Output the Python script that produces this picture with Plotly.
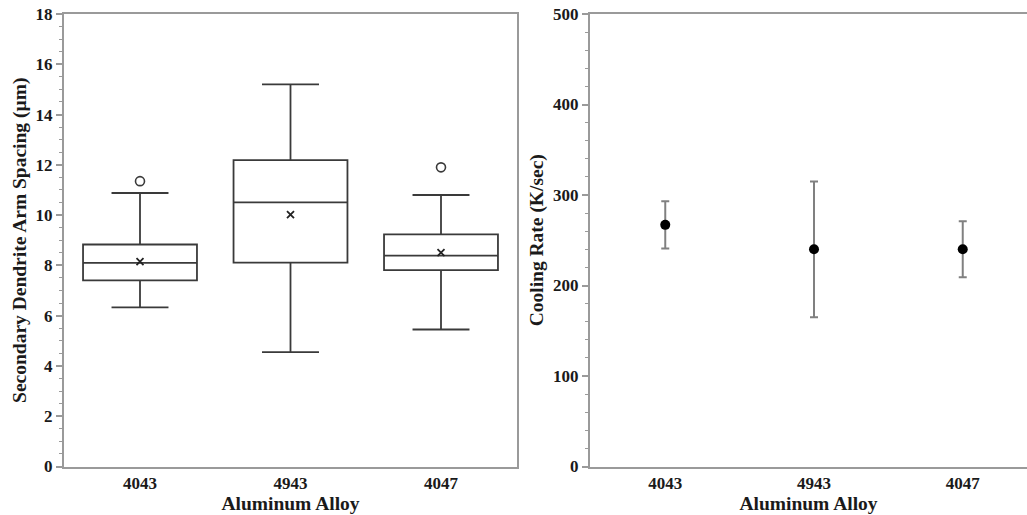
import plotly.graph_objects as go

# Alloys on the x axis of both panels
alloys = ["4043", "4943", "4047"]

# Secondary dendrite arm spacing (µm) box statistics
sdas_lower = [6.33, 4.55, 5.45]
sdas_q1 = [7.40, 8.11, 7.81]
sdas_median = [8.10, 10.51, 8.39]
sdas_q3 = [8.83, 12.19, 9.23]
sdas_upper = [10.88, 15.20, 10.80]
sdas_mean = [8.15, 10.02, 8.51]
outlier_alloys = ["4043", "4047"]
outlier_values = [11.35, 11.90]

# Cooling rate (K/sec) mean and error
cooling_rate = [267, 240, 240]
cooling_err = [26, 75, 31]

W, H = 1027, 515
FONT = "Liberation Serif, Times New Roman, serif"
AXIS_GREY = "#9a9a9a"
BOX_COL = "#3a3a3a"

fig = go.Figure()

fig.add_trace(go.Box(
    x=alloys, q1=sdas_q1, median=sdas_median, q3=sdas_q3,
    lowerfence=sdas_lower, upperfence=sdas_upper,
    boxpoints=False, width=0.757, whiskerwidth=0.5,
    fillcolor="rgba(0,0,0,0)", line=dict(color=BOX_COL, width=1.8),
    xaxis="x", yaxis="y", showlegend=False, hoverinfo="skip",
))
fig.add_trace(go.Scatter(
    x=alloys, y=sdas_mean, mode="markers",
    marker=dict(symbol="x-thin", size=7, line=dict(color="#222", width=1.8)),
    xaxis="x", yaxis="y", showlegend=False,
))
fig.add_trace(go.Scatter(
    x=outlier_alloys, y=outlier_values, mode="markers",
    marker=dict(symbol="circle-open", size=9, color=BOX_COL, line=dict(width=1.6)),
    xaxis="x", yaxis="y", showlegend=False,
))

fig.add_trace(go.Scatter(
    x=alloys, y=cooling_rate, mode="markers",
    marker=dict(symbol="circle", size=10, color="#000"),
    error_y=dict(type="data", array=cooling_err, visible=True,
                 color="#808080", thickness=2, width=4),
    xaxis="x2", yaxis="y2", showlegend=False,
))

tickfont = dict(family=FONT, size=17, color="#1a1a1a", weight="bold")
titlefont = dict(family=FONT, size=19.5, color="#1a1a1a", weight="bold")

ydom = [1 - 466.5 / H, 1 - 14 / H]

common_x = dict(
    type="category", showline=True, linecolor=AXIS_GREY, linewidth=2,
    ticks="", showgrid=False, zeroline=False, tickfont=tickfont, automargin=False,
    title=dict(text="Aluminum Alloy", font=titlefont, standoff=4),
)

fig.update_layout(
    width=W, height=H,
    margin=dict(l=0, r=0, t=0, b=0),
    paper_bgcolor="white", plot_bgcolor="white",
    xaxis=dict(domain=[64 / W, 517 / W], range=[-0.505, 2.505], mirror=True,
               anchor="y", **common_x),
    yaxis=dict(
        domain=ydom, range=[0, 18], dtick=2, anchor="x", automargin=False,
        showline=True, linecolor=AXIS_GREY, linewidth=2, mirror=True,
        ticks="outside", ticklen=6, tickwidth=1.5, tickcolor=AXIS_GREY,
        minor=dict(ticks="outside", dtick=0.5, ticklen=3, tickwidth=1, tickcolor=AXIS_GREY),
        showgrid=False, zeroline=False, tickfont=tickfont,
        title=dict(text="Secondary Dendrite Arm Spacing (µm)", font=titlefont, standoff=4),
    ),
    xaxis2=dict(domain=[590 / W, 1.0], range=[-0.506, 2.432], mirror=True,
                anchor="y2", **common_x),
    yaxis2=dict(
        domain=ydom, range=[0, 500], dtick=100, anchor="x2", automargin=False,
        showline=True, linecolor=AXIS_GREY, linewidth=2, mirror=False,
        ticks="outside", ticklen=6, tickwidth=1.5, tickcolor=AXIS_GREY,
        minor=dict(ticks="outside", dtick=20, ticklen=3, tickwidth=1, tickcolor=AXIS_GREY),
        showgrid=False, zeroline=False, tickfont=tickfont,
        title=dict(text="Cooling Rate (K/sec)", font=titlefont, standoff=4),
    ),
)

fig.write_html("out.html")
